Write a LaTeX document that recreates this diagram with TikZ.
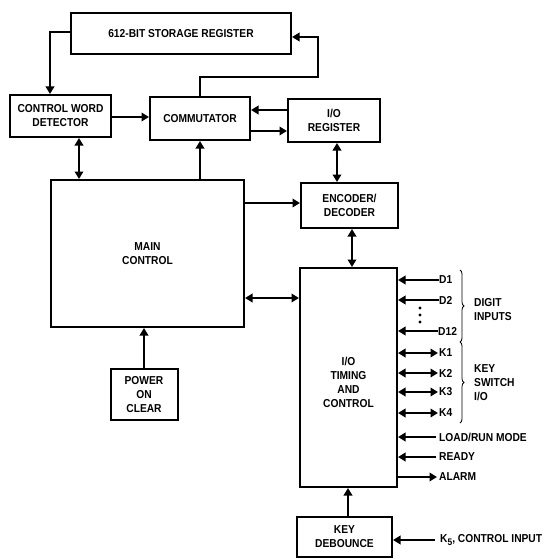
\documentclass[tikz,border=0pt]{standalone}
\usepackage{fontspec}
\setmainfont{Liberation Sans}[FakeStretch=0.89]
\usetikzlibrary{arrows.meta,calc,decorations.pathreplacing}
\begin{document}
\begin{tikzpicture}[x=1pt,y=-1pt,
  every node/.style={font=\bfseries\fontsize{11.5}{14}\selectfont, align=center, inner sep=0pt},
  blk/.style={draw, line width=2pt, minimum width=#1},
  lbl/.style={anchor=west},
  arr/.style={line width=2pt, -{Triangle[length=7.5pt,width=8.5pt]}},
  darr/.style={line width=2pt, {Triangle[length=7.5pt,width=8.5pt]}-{Triangle[length=7.5pt,width=8.5pt]}},
  brc/.style={line width=0.8pt, decorate, decoration={brace, amplitude=4pt}}]
\useasboundingbox (0,0) rectangle (549,559);
% blocks
\node[blk=220pt, minimum height=41pt] (store) at (181,33.5) {612-BIT STORAGE REGISTER};
\node[blk=101pt, minimum height=42pt] (cwd) at (60.5,116) {CONTROL WORD\\DETECTOR};
\node[blk=100pt, minimum height=43pt] (comm) at (200,118.5) {COMMUTATOR};
\node[blk=92pt, minimum height=43pt] (ioreg) at (334,120.5) {I/O\\REGISTER};
\node[blk=193pt, minimum height=147pt] (main) at (147.5,253.5) {MAIN\\CONTROL};
\node[blk=97pt, minimum height=45pt] (enc) at (349.5,205.5) {ENCODER/\\DECODER};
\node[blk=97pt, minimum height=219pt] (iotc) at (348.5,377.5) {};
\node (iotctext) at (348.5,382) {I/O\\TIMING\\AND\\CONTROL};
\node[blk=67pt, minimum height=51pt] (poc) at (144,394.5) {POWER\\ON\\CLEAR};
\node[blk=95pt, minimum height=40pt] (kd) at (344.5,537) {KEY\\DEBOUNCE};
% helper coordinates
\coordinate (c1) at (200,77);
\coordinate (c2) at (318,77);
\coordinate (c3) at (318,37);
\coordinate (c4) at (50,32);
% connectors
\draw[arr] (store.west |- c4) -| ([xshift=-10.5pt]cwd.north);
\draw[arr] (comm.north) -- (c1) -- (c2) -- (c3) -- (store.east |- c3);
\draw[arr] (cwd.east |- 0,117) -- (comm.west |- 0,117);
\draw[arr] (ioreg.west |- 0,110) -- (comm.east |- 0,110);
\draw[arr] (comm.east |- 0,131) -- (ioreg.west |- 0,131);
\draw[darr] (cwd.south -| 79,0) -- (main.north -| 79,0);
\draw[arr] (main.north -| comm.south) -- (comm.south);
\draw[darr] (ioreg.south -| 337,0) -- (enc.north -| 337,0);
\draw[arr] (main.east |- 0,203) -- (enc.west |- 0,203);
\draw[darr] (main.east |- 0,298) -- (iotc.west |- 0,298);
\draw[darr] (enc.south -| 352,0) -- (iotc.north -| 352,0);
\draw[arr] (poc.north) -- (poc.north |- main.south);
\draw[arr] (kd.north -| 348,0) -- (iotc.south -| 348,0);
% right side signals
\node[lbl] (d1) at (439,280) {D1};
\node[lbl] (d2) at (439,300) {D2};
\node[lbl] (d12) at (438,331) {D12};
\node[lbl] (k1) at (439,353) {K1};
\node[lbl] (k2) at (439,373) {K2};
\node[lbl] (k3) at (439,392) {K3};
\node[lbl] (k4) at (439,413) {K4};
\node[lbl] (load) at (439,437) {LOAD/RUN MODE};
\node[lbl] (ready) at (439,457) {READY};
\node[lbl] (alarm) at (439,477) {ALARM};
\node[lbl] (k5) at (440,540) {K\raisebox{-0.35ex}{\fontsize{9.5}{9.5}\selectfont 5}, CONTROL INPUT};
\draw[arr] (d1.west) -- (d1.west -| iotc.east);
\draw[arr] (d2.west) -- (d2.west -| iotc.east);
\draw[arr] (d12.west) -- (d12.west -| iotc.east);
\draw[darr] (iotc.east |- k1.west) -- ([xshift=-1pt]k1.west);
\draw[darr] (iotc.east |- k2.west) -- ([xshift=-1pt]k2.west);
\draw[darr] (iotc.east |- k3.west) -- ([xshift=-1pt]k3.west);
\draw[darr] (iotc.east |- k4.west) -- ([xshift=-1pt]k4.west);
\draw[arr] ([xshift=-3pt]load.west) -- (load.west -| iotc.east);
\draw[arr] ([xshift=-3pt]ready.west) -- (ready.west -| iotc.east);
\draw[arr] (iotc.east |- alarm.west) -- ([xshift=-2pt]alarm.west);
\draw[arr] ([xshift=-5pt]k5.west) -- (k5.west -| kd.east);
% dots
\fill (420,308) circle (1.7pt) (420,315) circle (1.7pt) (420,322) circle (1.7pt);
% braces
\coordinate (b1) at (460,270);
\coordinate (b2) at (460,342);
\coordinate (b3) at (460,423);
\draw[brc] (b1) -- (b2);
\draw[brc] (b2) -- (b3);
\node[anchor=west, align=left] (digit) at (474,310) {DIGIT\\INPUTS};
\node[anchor=west, align=left] (keysw) at (474,383) {KEY\\SWITCH\\I/O};
\end{tikzpicture}
\end{document}
